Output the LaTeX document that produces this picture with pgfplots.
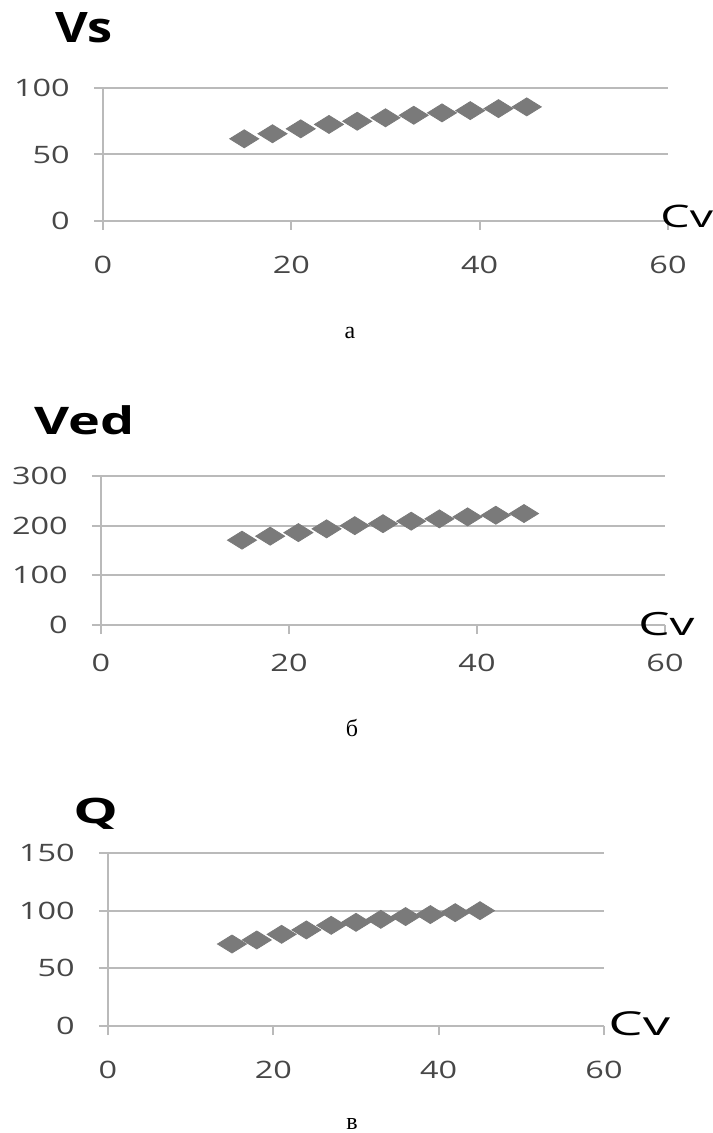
\documentclass[border=0pt]{standalone}
\usepackage{fontspec}
\setmainfont{Liberation Serif}
\newfontfamily\tickfont[FakeStretch=1.35]{Open Sans}
\newfontfamily\titlefont{Open Sans}
\usepackage{graphicx}
\usepackage{pgfplots}
\pgfplotsset{compat=1.18}

\pgfplotsset{
  panel/.style={
    scale only axis, enlargelimits=false, anchor=south west,
    axis x line=bottom, axis y line=left,
    axis line style={-, draw=black!27, line width=1pt},
    xmin=0, xmax=60, xtick={0,20,40,60},
    ymajorgrids, grid style={black!27, line width=1pt},
    tick align=outside, major tick length=4.5pt,
    tick style={black!27, line width=1pt},
    tick label style={font=\tickfont\fontsize{12}{14}\selectfont, text=black!72},
    /pgf/number format/assume math mode=true,
    yticklabel style={anchor=east, inner sep=0pt, xshift=-12pt},
    xticklabel style={anchor=center, inner sep=0pt, yshift=-17.5pt},
  },
  pts/.style={only marks, mark=diamond*, mark size=4.5pt,
    mark options={xscale=2.15, fill=black!52, draw=black!52}},
}

\begin{document}
\begin{tikzpicture}
\useasboundingbox (0,0) rectangle (356pt,-566.5pt);

% a
\begin{axis}[panel, at={(51.5pt,-110.5pt)}, width=282.5pt, height=66.5pt,
  ymin=0, ymax=100, ytick={0,50,100}]
\addplot[pts] coordinates {
  (15,61.8)(18,65.6)(21,69.3)(24,72.6)(27,75.0)(30,77.6)
  (33,79.5)(36,81.3)(39,83.0)(42,84.5)(45,85.8)};
\end{axis}

% b
\begin{axis}[panel, at={(50.5pt,-312.5pt)}, width=282pt, height=74.5pt,
  ymin=0, ymax=300, ytick={0,100,200,300},
  xticklabel style={yshift=3pt}]
\addplot[pts] coordinates {
  (15,170.8)(18,178.8)(21,186.0)(24,193.6)(27,200.0)(30,204.0)
  (33,209.0)(36,213.7)(39,217.7)(42,221.0)(45,224.4)};
\end{axis}

% v
\begin{axis}[panel, at={(54pt,-513pt)}, width=248pt, height=86.5pt,
  ymin=0, ymax=150, ytick={0,50,100,150}]
\addplot[pts] coordinates {
  (15,71.1)(18,74.6)(21,79.5)(24,83.3)(27,87.3)(30,89.9)
  (33,92.5)(36,94.9)(39,96.6)(42,98.3)(45,100.0)};
\end{axis}

% titles
\node[anchor=base west, inner sep=0pt] at (27.5pt,-21.5pt)
  {\scalebox{1.2}[1]{\titlefont\bfseries\fontsize{21}{24}\selectfont Vs}};
\node[anchor=base west, inner sep=0pt] at (17pt,-217.5pt)
  {\scalebox{1.42}[1]{\titlefont\bfseries\fontsize{19}{22}\selectfont Ved}};
\node[anchor=base west, inner sep=0pt] at (36.5pt,-411.5pt)
  {\scalebox{1.6}[1]{\titlefont\bfseries\fontsize{17.5}{20}\selectfont Q}};

% axis names
\node[anchor=base west, inner sep=0pt] at (330pt,-114pt)
  {\scalebox{1.5}[1]{\titlefont\fontsize{15.5}{17}\selectfont Cv}};
\node[anchor=base west, inner sep=0pt] at (319pt,-317.5pt)
  {\scalebox{1.55}[1]{\titlefont\fontsize{16}{18}\selectfont Cv}};
\node[anchor=base west, inner sep=0pt] at (304pt,-517.5pt)
  {\scalebox{1.65}[1]{\titlefont\fontsize{16.5}{18}\selectfont Cv}};

% captions
\node[font=\fontsize{12}{14}\selectfont] at (175pt,-166.5pt) {а};
\node[font=\fontsize{12}{14}\selectfont] at (176pt,-364pt) {б};
\node[font=\fontsize{12}{14}\selectfont] at (176pt,-562pt) {в};
\end{tikzpicture}
\end{document}
